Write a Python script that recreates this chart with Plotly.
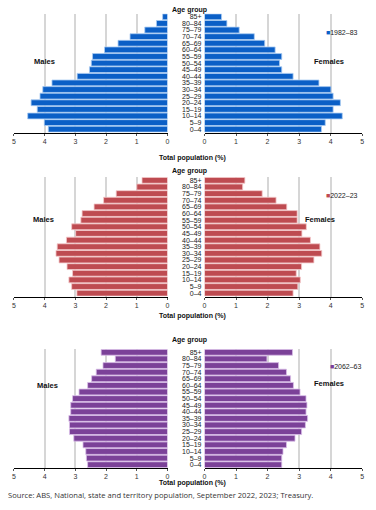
import plotly.graph_objects as go

W, H = 376, 510

age_groups = ['0–4', '5–9', '10–14', '15–19', '20–24', '25–29', '30–34', '35–39', '40–44',
              '45–49', '50–54', '55–59', '60–64', '65–69', '70–74', '75–79', '80–84', '85+']

years = ['1982–83', '2022–23', '2062–63']

males_1982 = [3.88, 4.01, 4.55, 4.24, 4.44, 4.15, 4.06, 3.76, 2.94, 2.54, 2.48, 2.44, 2.05, 1.61, 1.22, 0.74, 0.36, 0.16]
females_1982 = [3.71, 3.83, 4.37, 4.08, 4.31, 4.08, 4.01, 3.63, 2.81, 2.45, 2.38, 2.45, 2.24, 1.91, 1.58, 1.10, 0.71, 0.54]
males_2022 = [2.95, 3.12, 3.21, 3.09, 3.27, 3.53, 3.63, 3.59, 3.29, 2.99, 3.12, 2.82, 2.78, 2.39, 2.08, 1.67, 1.00, 0.83]
females_2022 = [2.81, 2.96, 3.04, 2.91, 3.08, 3.47, 3.72, 3.66, 3.36, 3.09, 3.23, 2.94, 2.94, 2.61, 2.27, 1.83, 1.21, 1.28]
males_2062 = [2.60, 2.64, 2.66, 2.75, 3.05, 3.19, 3.19, 3.21, 3.15, 3.15, 3.09, 2.88, 2.60, 2.47, 2.32, 2.10, 1.70, 2.16]
females_2062 = [2.45, 2.45, 2.49, 2.60, 2.87, 3.08, 3.20, 3.27, 3.22, 3.25, 3.22, 3.03, 2.82, 2.73, 2.60, 2.35, 1.98, 2.79]

x_ticks = [0, 1, 2, 3, 4, 5]

fills = ['#0B5FC6', '#BE4B51', '#7B4198']
edges = ['#A9CBF3', '#F4C9CB', '#D9BEE8']

males = [males_1982, males_2022, males_2062]
females = [females_1982, females_2022, females_2062]

# pixel layout
male_x = (12, 167.3)
female_x = (204.7, 364)
panel_y = [(13.5, 132.5), (177, 296.5), (349, 468)]
legend_pos = [(287, 32), (287, 195), (291, 366)]
males_lbl = [(30, 55), (29, 219), (33, 392)]
females_lbl = [(348, 55), (339, 219), (348, 390)]
total_y = [152, 316, 488.5]
age_y = [4.5, 171, 339.5]

FONT = 'Liberation Sans'

def fx(px):
    return px / W

def fy(py):
    return 1 - py / H

fig = go.Figure()
layout = dict(
    width=W, height=H, margin=dict(l=0, r=0, t=0, b=0),
    paper_bgcolor='white', plot_bgcolor='white',
    barmode='overlay', bargap=0.12,
    font=dict(family=FONT, size=7, color='#222'),
    showlegend=True,
)
annotations = []

for i in range(3):
    xm = 'x' if i == 0 else f'x{2*i+1}'
    xf = f'x{2*i+2}'
    ya = 'y' if i == 0 else f'y{i+1}'
    fig.add_trace(go.Bar(
        y=age_groups, x=males[i], orientation='h', xaxis=xm, yaxis=ya,
        marker=dict(color=fills[i], line=dict(color=edges[i], width=0.8)),
        showlegend=False, hoverinfo='x+y', name='Males ' + years[i]))
    fig.add_trace(go.Bar(
        y=age_groups, x=females[i], orientation='h', xaxis=xf, yaxis=ya,
        marker=dict(color=fills[i], line=dict(color=edges[i], width=0.8)),
        showlegend=False, hoverinfo='x+y', name='Females ' + years[i]))
    lg = 'legend' if i == 0 else f'legend{i+1}'
    fig.add_trace(go.Scatter(
        x=[None], y=[None], mode='markers', xaxis=xf, yaxis=ya,
        marker=dict(symbol='square', size=1, color='rgba(0,0,0,0)'),
        name=f'<span style="color:{fills[i]}">■</span>{years[i]}',
        legend=lg, showlegend=True))

    ydom = [fy(panel_y[i][1]), fy(panel_y[i][0])]
    axcommon = dict(
        tickvals=x_ticks, ticktext=[str(t) for t in x_ticks],
        showgrid=True, gridcolor='#D6D6D6', gridwidth=1.6,
        zeroline=False, showline=True, linecolor='#000', linewidth=1,
        ticks='outside', ticklen=2, tickcolor='#555',
        tickfont=dict(size=7, color='#333'), fixedrange=True,
    )
    layout['xaxis' if i == 0 else f'xaxis{2*i+1}'] = dict(
        domain=[fx(male_x[0]), fx(male_x[1])], range=[5, 0],
        anchor=ya, **axcommon)
    layout[f'xaxis{2*i+2}'] = dict(
        domain=[fx(female_x[0]), fx(female_x[1])], range=[0, 5],
        anchor=ya, **axcommon)
    layout['yaxis' if i == 0 else f'yaxis{i+1}'] = dict(
        domain=ydom, anchor=xf, side='left', type='category',
        categoryorder='array', categoryarray=age_groups,
        tickmode='array', tickvals=age_groups, ticktext=age_groups,
        range=[-0.5, len(age_groups) - 0.5],
        showgrid=False, zeroline=False, showline=False,
        ticks='', ticklabelstandoff=2,
        tickfont=dict(size=7, color='#222'), fixedrange=True,
    )
    layout[lg] = dict(
        x=fx(legend_pos[i][0]), y=fy(legend_pos[i][1]), xanchor='left', yanchor='middle',
        bgcolor='rgba(0,0,0,0)', font=dict(size=7, color='#222'),
        itemwidth=30, tracegroupgap=0,
    )
    annotations += [
        dict(text='<b>Males</b>', x=fx(males_lbl[i][0]), y=fy(males_lbl[i][1]),
             xref='paper', yref='paper', showarrow=False, font=dict(size=7.5, color='#111')),
        dict(text='<b>Females</b>', x=fx(females_lbl[i][0]), y=fy(females_lbl[i][1]),
             xref='paper', yref='paper', showarrow=False, font=dict(size=7.5, color='#111')),
        dict(text='<b>Total population (%)</b>', x=fx(193), y=fy(total_y[i]),
             xref='paper', yref='paper', showarrow=False, font=dict(size=7, color='#111')),
        dict(text='<b>Age group</b>', x=fx(190), y=fy(age_y[i]),
             xref='paper', yref='paper', showarrow=False, font=dict(size=7, color='#111')),
    ]

annotations.append(dict(
    text='Source: ABS, National, state and territory population, September 2022, 2023; Treasury.',
    x=fx(4), y=fy(502), xref='paper', yref='paper', xanchor='left', showarrow=False,
    font=dict(family='Open Sans', size=7.6, color='#333')))

layout['annotations'] = annotations
fig.update_layout(**layout)
fig.write_html('out.html', config={'displayModeBar': False},
               post_script="document.body.style.margin='0';document.body.style.overflow='hidden';")
